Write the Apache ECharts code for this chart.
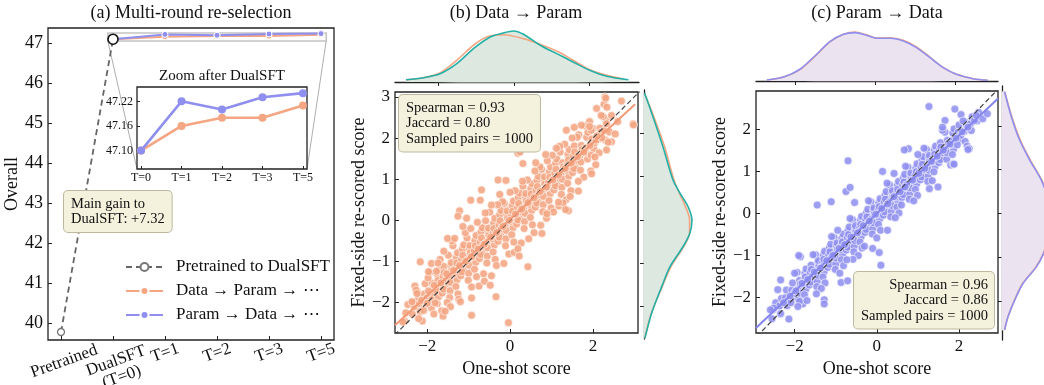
<!DOCTYPE html>
<html>
<head>
<meta charset="utf-8">
<script src="https://cdn.jsdelivr.net/npm/echarts@6/dist/echarts.min.js"></script>
<style>
  html, body { margin: 0; padding: 0; background: #fff; }
  #chart { width: 1044px; height: 385px; }
</style>
</head>
<body>
<div id="chart"></div>
<script>
// fonts / colours
const FONT = '"Liberation Serif", "DejaVu Serif", serif';
const INK = '#111';
const ORANGE = '#f4a582';
const BLUE = '#8f8ff0';
const TEAL = '#23b0a6';

// ---- (a) multi-round re-selection
const roundLabels = ['Pretrained', 'DualSFT\n(T=0)', 'T=1', 'T=2', 'T=3', 'T=5'];
const insetLabels = ['T=0', 'T=1', 'T=2', 'T=3', 'T=5'];
const pretrainedScore = 39.78;
const dualsftScore = 47.10;
const dataParamScores = [47.10, 47.16, 47.18, 47.18, 47.21];
const paramDataScores = [47.10, 47.22, 47.20, 47.23, 47.24];
const overallTicks = [40, 41, 42, 43, 44, 45, 46, 47];
const insetTicks = [47.10, 47.16, 47.22];
const insetRange = [47.055, 47.255];

// ---- (b) Data -> Param
const scatterB = [
  [-2.52,-2.25],[-2.47,-2.05],[-2.55,-2.45],
  [-2.36,-2.28],[-2.33,-1.98],[-2.31,-2.1],
  [-2.21,-1.9],[-2.17,-2.22],[-2.24,-1.74],[-2.19,-2.02],
  [-2.07,-1.79],[-2.03,-2.03],[-2.05,-1.54],[-2.01,-1.89],[-2.09,-2.19],
  [-1.92,-1.8],[-1.88,-1.53],[-1.9,-2.13],[-1.86,-1.63],[-1.94,-1.27],[-1.89,-1.93],
  [-1.77,-1.59],[-1.73,-1.86],[-1.75,-1.33],[-1.78,-1.71],[-1.72,-1.21],[-1.76,-2.03],[-1.74,-1.46],
  [-1.62,-1.37],[-1.58,-1.61],[-1.6,-1.12],[-1.56,-1.47],[-1.64,-1.77],[-1.59,-1.27],[-1.61,-1.67],
  [-1.47,-1.38],[-1.43,-1.11],[-1.45,-1.71],[-1.41,-1.21],[-1.49,-0.85],[-1.44,-1.51],[-1.46,-1.88],[-1.42,-1.03],
  [-1.32,-1.17],[-1.28,-1.44],[-1.3,-0.91],[-1.33,-1.29],[-1.27,-0.79],[-1.31,-1.61],[-1.29,-1.04],[-1.26,-1.79],
  [-1.17,-0.95],[-1.13,-1.19],[-1.15,-0.7],[-1.11,-1.05],[-1.19,-1.35],[-1.14,-0.85],[-1.16,-1.25],[-1.12,-0.6],
  [-1.02,-0.96],[-0.98,-0.69],[-1.0,-1.29],[-0.96,-0.79],[-1.04,-0.43],[-0.99,-1.09],[-1.01,-1.46],[-0.97,-0.61],
  [-0.87,-0.75],[-0.83,-1.02],[-0.85,-0.49],[-0.88,-0.87],[-0.82,-0.37],[-0.86,-1.19],[-0.84,-0.62],[-0.81,-1.37],
  [-0.72,-0.53],[-0.68,-0.77],[-0.7,-0.28],[-0.66,-0.63],[-0.74,-0.93],[-0.69,-0.43],[-0.71,-0.83],[-0.67,-0.18],
  [-0.57,-0.54],[-0.53,-0.27],[-0.55,-0.87],[-0.51,-0.37],[-0.59,-0.01],[-0.54,-0.67],[-0.56,-1.04],[-0.52,-0.19],
  [-0.42,-0.33],[-0.38,-0.6],[-0.4,-0.07],[-0.43,-0.45],[-0.37,0.05],[-0.41,-0.77],[-0.39,-0.2],[-0.36,-0.95],
  [-0.27,-0.11],[-0.23,-0.35],[-0.25,0.14],[-0.21,-0.21],[-0.29,-0.51],[-0.24,-0.01],[-0.26,-0.41],[-0.22,0.24],
  [-0.12,-0.12],[-0.08,0.15],[-0.1,-0.45],[-0.06,0.05],[-0.14,0.41],[-0.09,-0.25],[-0.11,-0.62],[-0.07,0.23],
  [0.03,0.09],[0.07,-0.18],[0.05,0.35],[0.02,-0.03],[0.08,0.47],[0.04,-0.35],[0.06,0.22],[0.09,-0.53],
  [0.18,0.31],[0.22,0.07],[0.2,0.56],[0.24,0.21],[0.16,-0.09],[0.21,0.41],[0.19,0.01],[0.23,0.66],
  [0.33,0.3],[0.37,0.57],[0.35,-0.03],[0.39,0.47],[0.31,0.83],[0.36,0.17],[0.34,-0.2],[0.38,0.65],
  [0.48,0.5],[0.52,0.24],[0.5,0.77],[0.47,0.39],[0.53,0.89],[0.49,0.07],[0.51,0.64],[0.54,-0.11],
  [0.63,0.72],[0.67,0.48],[0.65,0.97],[0.69,0.62],[0.61,0.32],[0.66,0.82],[0.64,0.42],[0.68,1.07],
  [0.78,0.71],[0.82,0.98],[0.8,0.38],[0.84,0.88],[0.76,1.24],[0.81,0.58],[0.79,0.21],[0.83,1.06],
  [0.93,0.92],[0.97,0.65],[0.95,1.18],[0.92,0.8],[0.98,1.3],[0.94,0.48],[0.96,1.05],[0.99,0.3],
  [1.08,1.14],[1.12,0.9],[1.1,1.39],[1.14,1.04],[1.06,0.74],[1.11,1.24],[1.09,0.84],[1.13,1.49],
  [1.23,1.13],[1.27,1.4],[1.25,0.8],[1.29,1.3],[1.21,1.66],[1.26,1.0],[1.24,0.63],
  [1.38,1.34],[1.42,1.07],[1.4,1.6],[1.37,1.22],[1.43,1.72],[1.39,0.9],[1.41,1.47],
  [1.53,1.56],[1.57,1.32],[1.55,1.81],[1.59,1.46],[1.51,1.16],[1.56,1.66],[1.54,1.26],
  [1.68,1.55],[1.72,1.82],[1.7,1.22],[1.74,1.72],[1.66,2.08],[1.71,1.42],
  [1.83,1.76],[1.87,1.49],[1.85,2.02],[1.82,1.64],[1.88,2.14],
  [1.98,1.98],[2.02,1.74],[2.0,2.23],[2.04,1.88],[1.96,1.58],
  [2.13,1.97],[2.17,2.24],[2.15,1.64],[2.19,2.14],
  [2.28,2.18],[2.32,2.42],[2.3,1.95],
  // fill close to the fitted line
  [-2.14,-1.95],[-1.97,-1.72],[-1.83,-1.58],[-1.67,-1.52],[-1.53,-1.3],[-1.37,-1.22],[-1.22,-1.1],[-1.07,-1.0],
  [-0.93,-0.88],[-0.77,-0.7],[-0.62,-0.58],[-0.47,-0.41],[-0.32,-0.3],[-0.17,-0.15],[-0.02,0.0],[0.13,0.15],
  [0.28,0.27],[0.43,0.43],[0.58,0.55],[0.73,0.7],[0.88,0.81],[1.03,0.98],[1.17,1.1],[1.33,1.26],
  [1.48,1.39],[1.63,1.55],[1.78,1.66],[1.93,1.82],[2.08,1.95],
  // wider spread
  [-2.3,-1.6],[-2.12,-2.45],[-1.98,-1.4],[-1.84,-2.28],[-1.69,-0.95],[-1.52,-2.0],[-1.38,-0.62],[-1.24,-1.92],
  [-1.08,-0.3],[-0.93,-1.62],[-0.79,-0.05],[-0.64,-1.3],[-0.49,0.2],[-0.33,-1.1],[-0.18,0.45],[-0.03,-0.82],
  [0.12,0.72],[0.27,-0.55],[0.42,0.98],[0.58,-0.3],[0.72,1.3],[0.88,0.05],[1.02,1.58],[1.18,0.35],
  [1.32,1.85],[1.47,0.72],[1.62,2.02],[1.78,1.05],[1.92,2.4],[2.07,1.35],[2.22,2.0],[2.4,2.15],
  [-1.9,-1.05],[-1.65,-2.2],[-1.4,-0.5],[-1.2,-1.98],[-0.95,-0.2],[-0.75,-1.6],[-0.6,0.18],[-0.45,-1.35],
  [-0.3,0.38],[-0.15,-1.05],[0.0,0.68],[0.1,-0.78],[0.3,0.95],[0.45,-0.45],[0.6,1.2],[0.74,-0.12],
  [0.9,1.45],[1.05,0.2],[1.2,1.8],[1.35,0.5],[1.5,2.0],[1.65,0.95],[1.8,2.3],[1.95,1.2],
  [0.86,1.6],[0.62,1.4],[1.28,0.42],[-0.62,-1.48],[-1.05,0.05],[-1.6,-0.75],
  // scattered points away from the band
  [2.29,3.0],[2.27,2.82],[2.31,2.97],[2.34,2.75],[2.25,2.52],[2.69,2.9],[2.97,2.35],[2.09,2.72],
  [2.45,1.91],[2.33,1.71],[1.36,2.19],[1.72,2.31],[1.96,2.19],[1.92,2.28],[1.12,1.75],[0.19,1.63],
  [0.24,1.66],[0.31,1.38],[-0.29,0.98],[-0.1,0.97],[-0.69,0.74],[-0.25,0.63],[-1.22,0.23],[-0.72,0.49],
  [-0.95,0.49],[-0.45,0.37],[-1.26,0.1],[-1.14,-0.15],[-1.51,-0.44],[-1.34,-0.44],[-1.74,-1.04],[-1.78,-1.24],
  [-2.17,-1.01],[-1.97,-1.25],[-2.27,-1.7],[-2.25,-1.78],[-2.37,-1.98],[-2.0,-2.02],[-1.81,-2.01],[-1.44,-2.1],
  [-2.21,-2.39],[-2.59,-2.47],[-1.62,-2.33],[-1.57,-2.21],[-0.93,-2.31],[-0.93,-1.89],[-0.48,-1.58],[-0.34,-1.86],
  [-0.04,-2.49],[0.19,-0.69],[0.22,-0.87],[0.43,-1.13],[0.77,-0.32],[0.89,0.16],[1.17,0.44],[1.41,0.23],
  [1.34,0.26],[1.65,0.71],[1.45,0.58],[1.97,1.13],[2.05,1.54],[2.37,1.9],[2.54,2.1],[2.98,2.32],
  [2.33,2.35],[1.55,2.26],[2.1,2.05],[2.6,2.4],[2.45,2.55],[2.2,2.55]
];
const regLineB = [[-2.78, -2.55], [3.02, 2.82]];
const diagB = [[-3.2, -3.2], [3.2, 3.2]];
const topXB = [-2.85, -2.39, -1.95, -1.51, -1.07, -0.63, -0.28, -0.02, 0.25, 0.69, 1.13, 1.56, 2.0, 2.45, 3.02];
const topTealB = [0.019, 0.036, 0.069, 0.153, 0.278, 0.375, 0.408, 0.425, 0.398, 0.306, 0.236, 0.167, 0.098, 0.048, 0.019];
const topXOrangeB = [-2.85, -2.39, -1.95, -1.51, -1.07, -0.72, -0.28, 0.25, 0.69, 1.13, 1.56, 2.0, 2.45, 2.88];
const topOrangeB = [0.019, 0.036, 0.075, 0.181, 0.306, 0.375, 0.394, 0.361, 0.314, 0.258, 0.181, 0.103, 0.056, 0.025];
const rightYB = [2.93, 2.47, 1.69, 0.92, 0.62, 0.31, 0, -0.30, -0.62, -1.08, -1.54, -2.15, -2.73];
const rightTealB = [0.004, 0.064, 0.158, 0.242, 0.30, 0.367, 0.40, 0.383, 0.325, 0.217, 0.148, 0.064, 0.008];
const rightOrangeB = [0.004, 0.07, 0.172, 0.25, 0.295, 0.345, 0.38, 0.38, 0.33, 0.225, 0.152, 0.062, 0.006];
const statsB = ['Spearman = 0.93', 'Jaccard = 0.80', 'Sampled pairs = 1000'];

// ---- (c) Param -> Data
const scatterC = [
  [-2.52,-2.28],[-2.46,-2.12],[-2.55,-2.5],
  [-2.37,-2.2],[-2.32,-2.02],[-2.34,-2.38],
  [-2.22,-2.0],[-2.18,-2.19],[-2.2,-1.82],[-2.16,-2.08],
  [-2.07,-1.82],[-2.03,-2.0],[-2.05,-1.65],[-2.01,-1.9],[-2.09,-2.12],
  [-1.92,-1.8],[-1.88,-1.59],[-1.9,-2.04],[-1.86,-1.67],[-1.94,-1.4],[-1.89,-1.89],
  [-1.77,-1.6],[-1.73,-1.8],[-1.75,-1.42],[-1.78,-1.69],[-1.72,-1.32],[-1.76,-1.93],[-1.74,-1.51],
  [-1.62,-1.4],[-1.58,-1.58],[-1.6,-1.23],[-1.56,-1.48],[-1.64,-1.7],[-1.59,-1.33],[-1.61,-1.63],
  [-1.47,-1.38],[-1.43,-1.17],[-1.45,-1.62],[-1.41,-1.25],[-1.49,-0.98],[-1.44,-1.47],[-1.46,-1.74],[-1.42,-1.12],
  [-1.32,-1.18],[-1.28,-1.38],[-1.3,-1.0],[-1.33,-1.27],[-1.27,-0.9],[-1.31,-1.51],[-1.29,-1.09],[-1.26,-1.65],
  [-1.17,-0.98],[-1.13,-1.16],[-1.15,-0.81],[-1.11,-1.06],[-1.19,-1.28],[-1.14,-0.91],[-1.16,-1.21],[-1.12,-0.73],
  [-1.02,-0.97],[-0.98,-0.76],[-1.0,-1.2],[-0.96,-0.84],[-1.04,-0.57],[-0.99,-1.06],[-1.01,-1.33],[-0.97,-0.7],
  [-0.87,-0.77],[-0.83,-0.97],[-0.85,-0.59],[-0.88,-0.86],[-0.82,-0.49],[-0.86,-1.1],[-0.84,-0.68],[-0.81,-1.24],
  [-0.72,-0.57],[-0.68,-0.75],[-0.7,-0.4],[-0.66,-0.65],[-0.74,-0.87],[-0.69,-0.5],[-0.71,-0.8],[-0.67,-0.32],
  [-0.57,-0.55],[-0.53,-0.34],[-0.55,-0.79],[-0.51,-0.42],[-0.59,-0.15],[-0.54,-0.64],[-0.56,-0.91],[-0.52,-0.29],
  [-0.42,-0.35],[-0.38,-0.55],[-0.4,-0.17],[-0.43,-0.44],[-0.37,-0.07],[-0.41,-0.68],[-0.39,-0.26],[-0.36,-0.82],
  [-0.27,-0.15],[-0.23,-0.33],[-0.25,0.02],[-0.21,-0.23],[-0.29,-0.45],[-0.24,-0.08],[-0.26,-0.38],[-0.22,0.1],
  [-0.12,-0.13],[-0.08,0.08],[-0.1,-0.37],[-0.06,0.0],[-0.14,0.27],[-0.09,-0.22],[-0.11,-0.49],[-0.07,0.13],
  [0.03,0.07],[0.07,-0.13],[0.05,0.25],[0.02,-0.02],[0.08,0.35],[0.04,-0.26],[0.06,0.16],[0.09,-0.4],
  [0.18,0.27],[0.22,0.09],[0.2,0.44],[0.24,0.19],[0.16,-0.04],[0.21,0.34],[0.19,0.04],[0.23,0.52],
  [0.33,0.28],[0.37,0.49],[0.35,0.04],[0.39,0.41],[0.31,0.68],[0.36,0.19],[0.34,-0.08],[0.38,0.54],
  [0.48,0.48],[0.52,0.28],[0.5,0.66],[0.47,0.39],[0.53,0.76],[0.49,0.15],[0.51,0.57],[0.54,0.01],
  [0.63,0.68],[0.67,0.5],[0.65,0.85],[0.69,0.6],[0.61,0.38],[0.66,0.75],[0.64,0.45],[0.68,0.93],
  [0.78,0.7],[0.82,0.91],[0.8,0.46],[0.84,0.83],[0.76,1.1],[0.81,0.61],[0.79,0.34],[0.83,0.96],
  [0.93,0.9],[0.97,0.7],[0.95,1.08],[0.92,0.81],[0.98,1.18],[0.94,0.57],[0.96,0.99],[0.99,0.43],
  [1.08,1.1],[1.12,0.92],[1.1,1.27],[1.14,1.02],[1.06,0.8],[1.11,1.17],[1.09,0.87],[1.13,1.35],
  [1.23,1.12],[1.27,1.33],[1.25,0.88],[1.29,1.25],[1.21,1.52],[1.26,1.03],[1.24,0.76],[1.28,1.38],
  [1.38,1.32],[1.42,1.12],[1.4,1.5],[1.37,1.23],[1.43,1.6],[1.39,0.99],[1.41,1.41],
  [1.53,1.51],[1.57,1.33],[1.55,1.68],[1.59,1.43],[1.51,1.21],[1.56,1.58],[1.54,1.28],
  [1.68,1.53],[1.72,1.74],[1.7,1.29],[1.74,1.66],[1.66,1.93],[1.71,1.44],
  [1.83,1.73],[1.87,1.53],[1.85,1.91],[1.82,1.64],[1.88,2.01],[1.84,1.4],
  [1.98,1.93],[2.02,1.75],[2.0,2.1],[2.04,1.85],[1.96,1.63],
  [2.13,1.95],[2.17,2.16],[2.15,1.71],[2.19,2.08],
  [2.28,2.13],[2.32,2.3],[2.3,1.97],
  [2.44,2.2],[2.48,2.4],
  // fill close to the fitted line
  [-2.27,-2.12],[-2.11,-1.96],[-1.97,-1.84],[-1.82,-1.66],[-1.68,-1.57],[-1.52,-1.39],[-1.37,-1.3],[-1.22,-1.12],
  [-1.07,-1.0],[-0.92,-0.83],[-0.78,-0.74],[-0.63,-0.56],[-0.47,-0.46],[-0.33,-0.29],[-0.18,-0.18],[-0.03,-0.02],
  [0.12,0.12],[0.27,0.23],[0.42,0.4],[0.57,0.52],[0.72,0.68],[0.87,0.79],[1.02,0.95],[1.17,1.07],
  [1.33,1.24],[1.47,1.36],[1.62,1.5],[1.78,1.65],[1.93,1.79],[2.08,1.94],[2.22,2.05],[2.38,2.21],
  // wider spread
  [-2.0,-1.42],[-1.8,-2.15],[-1.55,-0.98],[-1.35,-1.78],[-1.1,-0.55],[-0.9,-1.42],[-0.65,-0.12],[-0.45,-1.0],
  [-0.2,0.3],[0.0,-0.58],[0.25,0.72],[0.45,-0.1],[0.7,1.12],[0.9,0.3],[1.15,1.55],[1.35,0.78],
  [1.6,1.98],[1.8,1.15],[2.05,2.35],[2.2,1.6],[-0.95,-0.4],[-0.3,-0.78],[0.6,0.2],[1.0,1.4],
  // scattered points away from the band
  [1.27,2.54],[1.9,2.48],[-0.7,1.25],[-0.75,0.52],[-0.65,0.62],[-1.45,0.2],[-1.11,0.28],[-0.54,0.26],
  [0.14,1.0],[0.42,0.95],[-1.86,-1.03],[-1.9,-1.0],[-2.34,-1.58],[-2.41,-1.81],[-2.51,-2.25],[-2.59,-2.29],
  [-2.14,-2.51],[-1.88,-2.09],[-1.92,-2.21],[-1.7,-2.07],[-1.47,-1.91],[-1.28,-2.05],[-1.28,-2.15],[-0.87,-1.64],
  [-0.71,-1.6],[-0.58,-1.09],[-0.73,-1.1],[-0.1,-0.83],[0.06,-0.93],[0.1,-1.23],[0.26,-0.4],[0.69,0.63],
  [1.86,1.18],[2.25,1.54],[2.22,1.52],[2.58,2.25],[2.69,2.37],[2.42,2.33],[0.77,1.54],[0.67,1.51],
  [1.28,0.59],[1.49,0.63],[1.66,2.21],[1.88,1.17],[2.1,2.2],[1.6,2.05]
];
const regLineC = [[-2.94, -2.72], [2.95, 2.73]];
const diagC = [[-3.2, -3.2], [3.2, 3.2]];
const topXC = [-2.71, -2.29, -1.88, -1.46, -1.13, -0.79, -0.5, -0.21, 0.04, 0.38, 0.71, 1.04, 1.38, 1.71, 2.04, 2.46, 2.82];
const topBlueC = [0.008, 0.033, 0.098, 0.223, 0.328, 0.389, 0.403, 0.381, 0.356, 0.356, 0.333, 0.278, 0.194, 0.111, 0.056, 0.019, 0.006];
const topOrangeC = [0.008, 0.033, 0.095, 0.22, 0.326, 0.39, 0.408, 0.384, 0.357, 0.36, 0.339, 0.283, 0.197, 0.112, 0.056, 0.019, 0.006];
const rightYC = [2.78, 2.21, 1.67, 1.22, 0.76, 0.3, 0, -0.3, -0.6, -0.91, -1.22, -1.6, -1.98, -2.36, -2.66];
const rightBlueC = [0.022, 0.078, 0.148, 0.231, 0.328, 0.39, 0.417, 0.417, 0.383, 0.348, 0.287, 0.175, 0.106, 0.05, 0.022];
const rightOrangeC = [0.022, 0.082, 0.153, 0.236, 0.332, 0.392, 0.417, 0.415, 0.38, 0.345, 0.283, 0.172, 0.104, 0.05, 0.022];
const statsC = ['Spearman = 0.96', 'Jaccard = 0.86', 'Sampled pairs = 1000'];

// ---- helpers
const minus = v => String(v).replace('-', '\u2212');
const zip = (a, b) => a.map((v, i) => [v, b[i]]);

function boxAxis(opts) {
  return Object.assign({
    type: 'value',
    axisLine: { show: false, onZero: false },
    splitLine: { show: false },
    axisTick: { show: true, inside: true, length: 4, customValues: opts.ticks, lineStyle: { color: '#222', width: 1 } },
    axisLabel: { show: true, customValues: opts.ticks, fontFamily: FONT, fontSize: 17, color: INK, margin: 5, formatter: minus },
    nameTextStyle: { fontFamily: FONT, fontSize: 18, color: INK },
    nameLocation: 'middle'
  }, opts.extra || {});
}

function marginAxis(min, max, ticks, position) {
  return {
    type: 'value', min: min, max: max, position: position,
    axisLine: { show: true, onZero: false, lineStyle: { color: '#222', width: 1.3 } },
    axisTick: { show: true, inside: false, length: 4, customValues: ticks, lineStyle: { color: '#222', width: 1 } },
    axisLabel: { show: false },
    splitLine: { show: false }
  };
}

function hiddenAxis(min, max) {
  return { type: 'value', min: min, max: max, show: false, axisLine: { onZero: false }, splitLine: { show: false } };
}

// filled density polygon, vertical = density grows upward from the x axis
function densityFill(idx, pts, color, vertical) {
  return {
    type: 'custom', xAxisIndex: idx, yAxisIndex: idx, silent: true, z: 1,
    data: [[0, 0]],
    renderItem: function (params, api) {
      const ring = pts.slice();
      if (vertical) {
        ring.push([pts[pts.length - 1][0], 0], [pts[0][0], 0]);
      } else {
        ring.push([0, pts[pts.length - 1][1]], [0, pts[0][1]]);
      }
      return {
        type: 'polygon',
        shape: { points: ring.map(p => api.coord(p)), smooth: 0.3 },
        style: { fill: color, stroke: null }
      };
    }
  };
}

function densityLine(idx, pts, color) {
  return {
    type: 'line', xAxisIndex: idx, yAxisIndex: idx, data: pts, symbol: 'none', smooth: 0.3,
    lineStyle: { color: color, width: 1.6 }, silent: true, z: 3
  };
}

// rotated round labels, each centred on its tick like the original
const roundRich = {
  p: { fontFamily: FONT, fontSize: 17, color: INK, padding: [18, 0, 0, 0] },
  t: { fontFamily: FONT, fontSize: 17, color: INK }
};
function roundLabel(v) {
  const parts = roundLabels[v].split('\n');
  if (v === 0) return '{p|' + parts[0] + '}';
  return parts.map(s => '{t|' + s + '}').join('\n');
}
function roundAxisLabel(values, padding) {
  return { show: true, customValues: values, rotate: 20, align: 'center', verticalAlign: 'middle',
    margin: 13, hideOverlap: false, showMinLabel: true, showMaxLabel: true, padding: padding || 0,
    fontFamily: FONT, fontSize: 17, color: INK, lineHeight: 17, rich: roundRich, formatter: roundLabel };
}

// fixed grid rectangles: labels may run outside without shrinking the plot
const fixed = { containLabel: false, outerBoundsMode: 'none' };
const frame = Object.assign({ show: true, borderColor: '#222', borderWidth: 1.3, backgroundColor: '#fff' }, fixed);

const chart = echarts.init(document.getElementById('chart'));

const option = {
  animation: false,
  textStyle: { fontFamily: FONT },
  grid: [
    Object.assign({ left: 48, top: 28, width: 286, height: 312 }, frame),
    Object.assign({ left: 137, top: 87, width: 170, height: 82, z: 5 }, frame),
    Object.assign({ left: 395, top: 92, width: 243, height: 241 }, frame),
    Object.assign({ left: 395, top: 27, width: 244, height: 55 }, fixed),
    Object.assign({ left: 644, top: 90, width: 56, height: 249 }, fixed),
    Object.assign({ left: 756, top: 91, width: 242, height: 242 }, frame),
    Object.assign({ left: 756, top: 26, width: 242, height: 55 }, fixed),
    Object.assign({ left: 1002, top: 86, width: 56, height: 254 }, fixed)
  ],
  xAxis: [
    boxAxis({ ticks: [0, 1, 2, 3, 4, 5], extra: {
      gridIndex: 0, position: 'bottom', min: -0.25, max: 5.25, axisLabel: roundAxisLabel([0, 2, 3, 4, 5])
    } }),
    boxAxis({ ticks: [0, 1, 2, 3, 4], extra: {
      gridIndex: 1, min: -0.1, max: 4.1, z: 6,
      axisTick: { show: true, inside: true, length: 3, customValues: [0, 1, 2, 3, 4], lineStyle: { color: '#222' } },
      axisLabel: { show: true, customValues: [0, 1, 2, 3, 4], fontFamily: FONT, fontSize: 12, color: INK, margin: 3,
        formatter: v => insetLabels[v] }
    } }),
    boxAxis({ ticks: [-2, 0, 2], extra: { gridIndex: 2, min: -2.78, max: 3.09, name: 'One-shot score', nameGap: 22 } }),
    Object.assign(marginAxis(-3.14, 3.30, [-2, 0, 2], 'bottom'), { gridIndex: 3 }),
    Object.assign(hiddenAxis(0, 0.467), { gridIndex: 4 }),
    boxAxis({ ticks: [-2, 0, 2], extra: { gridIndex: 5, min: -2.94, max: 2.95, name: 'One-shot score', nameGap: 22 } }),
    Object.assign(marginAxis(-2.98, 3.08, [-2, 0, 2], 'bottom'), { gridIndex: 6 }),
    Object.assign(hiddenAxis(0, 0.467), { gridIndex: 7 }),
    // second label row for the DualSFT tick (kept apart so it is not hidden as an overlap)
    boxAxis({ ticks: [1], extra: {
      gridIndex: 0, position: 'bottom', offset: 0, min: -0.25, max: 5.25,
      axisTick: { show: false }, axisLabel: roundAxisLabel([1], [34, 0, 0, 0])
    } })
  ],
  yAxis: [
    boxAxis({ ticks: overallTicks, extra: { gridIndex: 0, min: 39.58, max: 47.38, name: 'Overall', nameGap: 23,
      axisLabel: { show: true, customValues: overallTicks, fontFamily: FONT, fontSize: 18, color: INK, margin: 5 } } }),
    boxAxis({ ticks: insetTicks, extra: {
      gridIndex: 1, min: insetRange[0], max: insetRange[1], z: 6,
      axisTick: { show: true, inside: true, length: 3, customValues: insetTicks, lineStyle: { color: '#222' } },
      axisLabel: { show: true, customValues: insetTicks, fontFamily: FONT, fontSize: 12, color: INK, margin: 4,
        formatter: v => v.toFixed(2) }
    } }),
    boxAxis({ ticks: [-2, -1, 0, 1, 2, 3], extra: { gridIndex: 2, min: -2.74, max: 3.12, name: 'Fixed-side re-scored score', nameGap: 21 } }),
    Object.assign(hiddenAxis(0, 0.458), { gridIndex: 3 }),
    Object.assign(marginAxis(-2.75, 3.0, [-2, -1, 0, 1, 2], 'left'), { gridIndex: 4 }),
    boxAxis({ ticks: [-2, -1, 0, 1, 2], extra: { gridIndex: 5, min: -2.84, max: 2.91, name: 'Fixed-side re-scored score', nameGap: 24 } }),
    Object.assign(hiddenAxis(0, 0.458), { gridIndex: 6 }),
    Object.assign(marginAxis(-2.89, 2.91, [-2, -1, 0, 1, 2], 'left'), { gridIndex: 7 })
  ],
  legend: {
    left: 120, top: 253, orient: 'vertical',
    itemWidth: 37, itemHeight: 10, itemGap: 6,
    data: ['Pretrained to DualSFT', 'Data \u2192 Param \u2192 \u22ef', 'Param \u2192 Data \u2192 \u22ef'],
    textStyle: { fontFamily: FONT, fontSize: 17, color: INK, lineHeight: 18, padding: [0, 0, 0, 8] }
  },
  series: [
    // (a) main
    {
      name: 'Data \u2192 Param \u2192 \u22ef', type: 'line', xAxisIndex: 0, yAxisIndex: 0,
      data: dataParamScores.map((v, i) => [i + 1, v]),
      symbol: 'circle', symbolSize: 6,
      lineStyle: { color: ORANGE, width: 2 },
      itemStyle: { color: ORANGE, borderColor: '#fff', borderWidth: 1 },
      markArea: {
        silent: true,
        itemStyle: { color: 'rgba(0,0,0,0)', borderColor: '#c4c4c4', borderWidth: 1.5 },
        data: [[{ coord: [0.9, insetRange[1]] }, { coord: [5.1, insetRange[0]] }]]
      }
    },
    {
      name: 'Param \u2192 Data \u2192 \u22ef', type: 'line', xAxisIndex: 0, yAxisIndex: 0,
      data: paramDataScores.map((v, i) => [i + 1, v]),
      symbol: 'circle', symbolSize: 6,
      lineStyle: { color: BLUE, width: 2 },
      itemStyle: { color: BLUE, borderColor: '#fff', borderWidth: 1 }
    },
    {
      name: 'Pretrained to DualSFT', type: 'line', xAxisIndex: 0, yAxisIndex: 0, z: 4,
      data: [[0, pretrainedScore], { value: [1, dualsftScore], symbolSize: 10, itemStyle: { borderColor: '#111', borderWidth: 1.6 } }],
      symbol: 'circle', symbolSize: 7,
      lineStyle: { color: '#666', width: 1.8, type: [6, 4] },
      itemStyle: { color: '#fff', borderColor: '#777', borderWidth: 1.3 }
    },
    // (a) inset
    {
      type: 'line', xAxisIndex: 1, yAxisIndex: 1, z: 6,
      data: dataParamScores.map((v, i) => [i, v]),
      symbol: 'circle', symbolSize: 8,
      lineStyle: { color: ORANGE, width: 2.6 }, itemStyle: { color: ORANGE }
    },
    {
      type: 'line', xAxisIndex: 1, yAxisIndex: 1, z: 6,
      data: paramDataScores.map((v, i) => [i, v]),
      symbol: 'circle', symbolSize: 8,
      lineStyle: { color: BLUE, width: 2.6 }, itemStyle: { color: BLUE }
    },
    // (b)
    {
      type: 'scatter', xAxisIndex: 2, yAxisIndex: 2, data: scatterB, symbolSize: 8, z: 2,
      itemStyle: { color: ORANGE, opacity: 0.88, borderColor: '#fff', borderWidth: 0.7 }
    },
    { type: 'line', xAxisIndex: 2, yAxisIndex: 2, data: diagB, symbol: 'none', z: 3,
      lineStyle: { color: '#444', width: 1.2, type: [5, 3] } },
    { type: 'line', xAxisIndex: 2, yAxisIndex: 2, data: regLineB, symbol: 'none', z: 4,
      lineStyle: { color: '#f39a76', width: 2 } },
    densityFill(3, zip(topXB, topTealB), '#dde8e1', true),
    densityLine(3, zip(topXOrangeB, topOrangeB), ORANGE),
    densityLine(3, zip(topXB, topTealB), TEAL),
    densityFill(4, zip(rightTealB, rightYB), '#dde8e1', false),
    densityLine(4, zip(rightOrangeB, rightYB), ORANGE),
    densityLine(4, zip(rightTealB, rightYB), TEAL),
    // (c)
    {
      type: 'scatter', xAxisIndex: 5, yAxisIndex: 5, data: scatterC, symbolSize: 8, z: 2,
      itemStyle: { color: BLUE, opacity: 0.88, borderColor: '#fff', borderWidth: 0.7 }
    },
    { type: 'line', xAxisIndex: 5, yAxisIndex: 5, data: diagC, symbol: 'none', z: 3,
      lineStyle: { color: '#444', width: 1.2, type: [5, 3] } },
    { type: 'line', xAxisIndex: 5, yAxisIndex: 5, data: regLineC, symbol: 'none', z: 4,
      lineStyle: { color: '#8585ee', width: 2 } },
    densityFill(6, zip(topXC, topBlueC), '#ebe3f0', true),
    densityLine(6, zip(topXC, topOrangeC), ORANGE),
    densityLine(6, zip(topXC, topBlueC), BLUE),
    densityFill(7, zip(rightBlueC, rightYC), '#ebe3f0', false),
    densityLine(7, zip(rightOrangeC, rightYC), ORANGE),
    densityLine(7, zip(rightBlueC, rightYC), BLUE)
  ]
};

chart.setOption(option);

// text, boxes and the zoom connectors
const titleStyle = { fill: INK, font: '18px ' + FONT, align: 'center', verticalAlign: 'middle' };
const boxStyle = { fill: INK, font: '14.5px ' + FONT, lineHeight: 15.5, backgroundColor: '#f4f1dd',
  borderColor: '#bdb9a0', borderWidth: 1, borderRadius: 4 };

const p1 = chart.convertToPixel({ gridIndex: 0 }, [0.9, insetRange[0]]);
const q1 = chart.convertToPixel({ gridIndex: 1 }, [-0.1, insetRange[0]]);
const p2 = chart.convertToPixel({ gridIndex: 0 }, [5.1, insetRange[0]]);
const q2 = chart.convertToPixel({ gridIndex: 1 }, [4.1, insetRange[0]]);

chart.setOption({
  graphic: [
    { type: 'text', x: 191, y: 13, style: Object.assign({ text: '(a) Multi-round re-selection' }, titleStyle) },
    { type: 'text', x: 516, y: 13, style: Object.assign({ text: '(b) Data \u2192 Param' }, titleStyle) },
    { type: 'text', x: 877, y: 13, style: Object.assign({ text: '(c) Param \u2192 Data' }, titleStyle) },
    { type: 'text', x: 222, y: 76, z: 10, style: { text: 'Zoom after DualSFT', fill: INK, font: '15px ' + FONT, align: 'center', verticalAlign: 'middle' } },
    { type: 'line', z: 1, shape: { x1: p1[0], y1: p1[1], x2: q1[0], y2: q1[1] }, style: { stroke: '#999', lineWidth: 0.8 } },
    { type: 'line', z: 1, shape: { x1: p2[0], y1: p2[1], x2: q2[0], y2: q2[1] }, style: { stroke: '#999', lineWidth: 0.8 } },
    { type: 'text', x: 64, y: 191, z: 10, style: Object.assign({ text: 'Main gain to\nDualSFT: +7.32', align: 'left', verticalAlign: 'top', padding: [5, 7, 5, 7] }, boxStyle) },
    { type: 'text', x: 399, y: 95, z: 10, style: Object.assign({ text: statsB.join('\n'), align: 'left', verticalAlign: 'top', padding: [5, 7, 5, 7] }, boxStyle) },
    { type: 'text', x: 994, y: 272, z: 10, style: Object.assign({ text: statsC.join('\n'), align: 'right', verticalAlign: 'top', padding: [5, 6, 5, 7] }, boxStyle) }
  ]
});
</script>
</body>
</html>
